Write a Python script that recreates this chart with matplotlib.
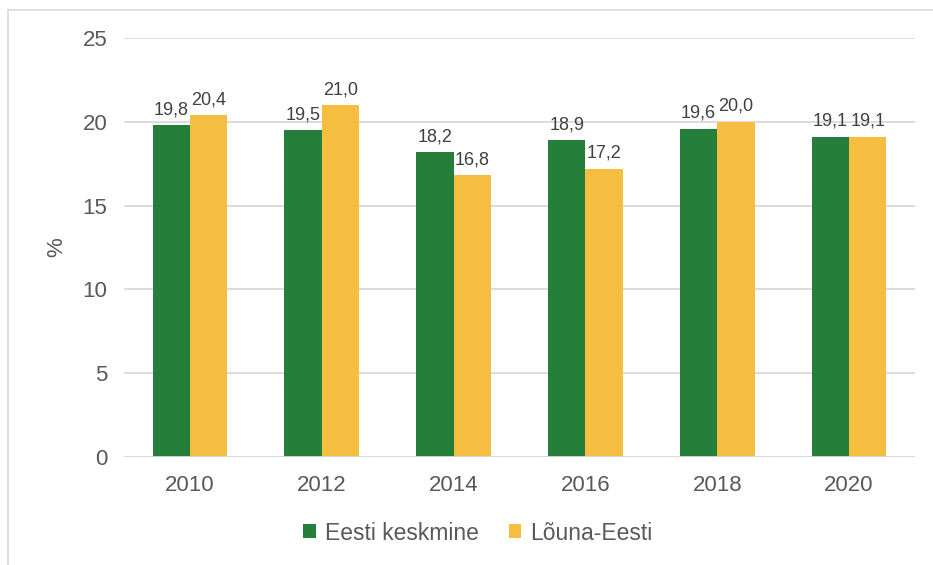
import matplotlib
matplotlib.use("Agg")
import matplotlib.pyplot as plt
import numpy as np
from matplotlib.lines import Line2D

plt.rcParams['font.family'] = ['Liberation Sans', 'DejaVu Sans']

years = ["2010", "2012", "2014", "2016", "2018", "2020"]
eesti = [19.8, 19.5, 18.2, 18.9, 19.6, 19.1]
louna = [20.4, 21.0, 16.8, 17.2, 20.0, 19.1]
series_names = ["Eesti keskmine", "Lõuna-Eesti"]
yticks = [0, 5, 10, 15, 20, 25]

green = "#257F3A"
yellow = "#F5BE41"
txt = "#595959"

fig = plt.figure(figsize=(9.33, 5.65), dpi=100)
ax = fig.add_axes([124/933, 1-457/565, (915-124)/933, (457-38)/565])

x = np.arange(len(years))
w = 0.283
b1 = ax.bar(x - w/2, eesti, w, color=green, label=series_names[0], zorder=3)
b2 = ax.bar(x + w/2, louna, w, color=yellow, label=series_names[1], zorder=3)

def fmt(v):
    return f"{v:.1f}".replace(".", ",")

for rects, vals in ((b1, eesti), (b2, louna)):
    for r, v in zip(rects, vals):
        ax.annotate(fmt(v), (r.get_x() + r.get_width()/2, v),
                    xytext=(0, 5), textcoords="offset points",
                    ha="center", va="bottom", fontsize=13, color="#404040")

ax.set_xlim(-0.5, len(years) - 0.5)
ax.set_ylim(0, 25)
ax.set_yticks(yticks)
ax.set_yticklabels([str(t) for t in yticks])
ax.set_xticks(x)
ax.set_xticklabels(years)
ax.tick_params(axis='both', length=0, labelsize=16, colors=txt)
ax.tick_params(axis='y', pad=12)
ax.tick_params(axis='x', pad=13)
ax.yaxis.grid(True, color="#D9D9D9", linewidth=1.3, zorder=0)
for s in ax.spines.values():
    s.set_visible(False)
ax.axhline(0, color="#D9D9D9", linewidth=1.3, zorder=4)

ax.set_ylabel("%", fontsize=16, color=txt)
ax.yaxis.set_label_coords((67 - 124) / (915 - 124), (457 - 247) / (457 - 38))

leg = fig.legend(handles=[b1, b2], labels=series_names, loc="center",
                 bbox_to_anchor=(478/933, 1-533/565), ncol=2, frameon=False,
                 fontsize=16.5, handlelength=0.55, handleheight=0.55,
                 handletextpad=0.4, columnspacing=1.3)
for t in leg.get_texts():
    t.set_color(txt)

# outer border (top and left edge visible)
fig.add_artist(Line2D([8/933, 8/933], [0, 1-10/565], transform=fig.transFigure,
                      color="#D9D9D9", linewidth=1.2))
fig.add_artist(Line2D([8/933, 1], [1-10/565, 1-10/565], transform=fig.transFigure,
                      color="#D9D9D9", linewidth=1.2))

fig.savefig("out.png", dpi=100)
